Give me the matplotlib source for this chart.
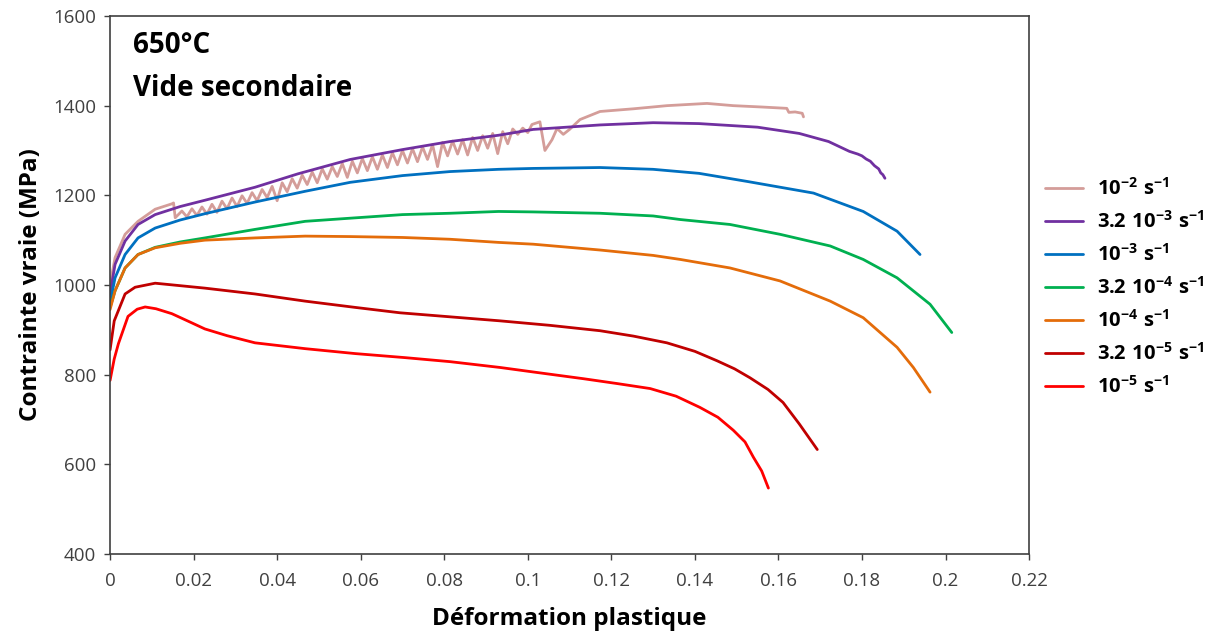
import matplotlib
matplotlib.use("Agg")
import matplotlib.pyplot as plt

plt.rcParams["font.family"] = ["Open Sans", "DejaVu Sans"]
plt.rcParams["mathtext.fontset"] = "custom"
plt.rcParams["mathtext.rm"] = "Open Sans"
plt.rcParams["mathtext.bf"] = "Open Sans:bold"

# strain rate labels and colours (legend order)
labels = [
    r"$\mathbf{10^{-2}\ s^{-1}}$",
    r"$\mathbf{3.2\ 10^{-3}\ s^{-1}}$",
    r"$\mathbf{10^{-3}\ s^{-1}}$",
    r"$\mathbf{3.2\ 10^{-4}\ s^{-1}}$",
    r"$\mathbf{10^{-4}\ s^{-1}}$",
    r"$\mathbf{3.2\ 10^{-5}\ s^{-1}}$",
    r"$\mathbf{10^{-5}\ s^{-1}}$",
]
colors = ["#d49d99", "#7030a0", "#0070c0", "#00b050", "#e46c0a", "#c00000", "#ff0000"]

# 1e-2 s-1 (serrated)
x_1e2 = [0, 0.0012, 0.0036, 0.0067, 0.0108, 0.0148, 0.0152, 0.0156,
         0.0172, 0.0184, 0.0196, 0.0208, 0.0220, 0.0232, 0.0244, 0.0256, 0.0268,
         0.0280, 0.0292, 0.0304, 0.0316, 0.0328, 0.0340, 0.0352, 0.0364, 0.0376,
         0.0388, 0.0400, 0.0412, 0.0424, 0.0436, 0.0448, 0.0460, 0.0472, 0.0484,
         0.0496, 0.0508, 0.0520, 0.0532, 0.0544, 0.0556, 0.0568, 0.0580, 0.0592,
         0.0604, 0.0616, 0.0628, 0.0640, 0.0652, 0.0664, 0.0676, 0.0688, 0.0700,
         0.0712, 0.0724, 0.0736, 0.0748, 0.0760, 0.0772, 0.0784, 0.0796, 0.0808,
         0.0820, 0.0832, 0.0844, 0.0856, 0.0868, 0.0880, 0.0892, 0.0904, 0.0916,
         0.0928, 0.0940, 0.0952, 0.0964, 0.0976, 0.0988, 0.1000, 0.1010, 0.1029,
         0.1041, 0.1058, 0.1070, 0.1085, 0.1100, 0.1125, 0.1173, 0.1253, 0.1333,
         0.1429, 0.1492, 0.1560, 0.1620, 0.1625, 0.1640, 0.1657, 0.1660]
y_1e2 = [1000, 1061, 1113, 1142, 1169, 1181, 1183, 1150,
         1165, 1152, 1170, 1155, 1174, 1158, 1180, 1162, 1187,
         1170, 1194, 1175, 1199, 1182, 1206, 1188, 1213, 1195,
         1220, 1188, 1228, 1208, 1237, 1216, 1245, 1224, 1252,
         1228, 1259, 1236, 1264, 1242, 1271, 1240, 1276, 1250,
         1282, 1255, 1286, 1258, 1290, 1262, 1295, 1268, 1300,
         1272, 1304, 1275, 1308, 1280, 1313, 1264, 1318, 1288,
         1321, 1292, 1324, 1290, 1329, 1300, 1333, 1305, 1338,
         1293, 1342, 1315, 1348, 1336, 1350, 1340, 1358, 1364,
         1300, 1324, 1349, 1336, 1347, 1369, 1387, 1393, 1400,
         1405, 1400, 1397, 1394, 1385, 1386, 1383, 1375]

# 3.2e-3 s-1
x_32e3 = [0, 0.0012, 0.0036, 0.0067, 0.0108, 0.0168, 0.0227, 0.0347, 0.045, 0.0575,
          0.07, 0.0814, 0.093, 0.1013, 0.1173, 0.13, 0.141, 0.155, 0.165, 0.172,
          0.177, 0.179, 0.180, 0.181, 0.182, 0.183, 0.184, 0.1845, 0.185, 0.1855]
y_32e3 = [980, 1046, 1098, 1135, 1157, 1175, 1189, 1218, 1248, 1280,
          1302, 1320, 1334, 1347, 1357, 1362, 1360, 1352, 1338, 1320,
          1298, 1292, 1288, 1281, 1276, 1266, 1259, 1250, 1246, 1238]

# 1e-3 s-1
x_1e3 = [0, 0.0012, 0.0036, 0.0067, 0.0108, 0.0168, 0.0227, 0.0347, 0.0467, 0.0575,
         0.07, 0.0814, 0.093, 0.1013, 0.1173, 0.13, 0.141, 0.1525, 0.1684, 0.1803,
         0.1884, 0.1939]
y_1e3 = [960, 1016, 1068, 1105, 1127, 1145, 1159, 1185, 1209, 1229,
         1244, 1253, 1258, 1260, 1262, 1258, 1249, 1231, 1205, 1164,
         1120, 1068]

# 3.2e-4 s-1
x_32e4 = [0, 0.0012, 0.0036, 0.0067, 0.0108, 0.0168, 0.0227, 0.0347, 0.0467, 0.0575,
          0.07, 0.0814, 0.093, 0.1013, 0.1173, 0.13, 0.1365, 0.1484, 0.1604, 0.1724,
          0.1803, 0.1884, 0.1963, 0.2015]
y_32e4 = [950, 987, 1038, 1068, 1084, 1096, 1105, 1124, 1142, 1149,
          1157, 1160, 1164, 1163, 1160, 1154, 1146, 1135, 1113, 1087,
          1057, 1016, 957, 894]

# 1e-4 s-1
x_1e4 = [0, 0.0012, 0.0036, 0.0067, 0.0108, 0.0168, 0.0227, 0.0347, 0.0467, 0.0575,
         0.07, 0.0814, 0.093, 0.1013, 0.1173, 0.13, 0.1365, 0.1484, 0.1604, 0.1724,
         0.1803, 0.1884, 0.1923, 0.1963]
y_1e4 = [945, 987, 1038, 1068, 1083, 1093, 1100, 1105, 1109, 1108,
         1106, 1102, 1095, 1091, 1078, 1066, 1057, 1038, 1009, 964,
         927, 861, 816, 761]

# 3.2e-5 s-1
x_32e5 = [0, 0.001, 0.0036, 0.006, 0.0108, 0.0227, 0.0347, 0.0467, 0.0587, 0.0694,
          0.0814, 0.0934, 0.1053, 0.1173, 0.1253, 0.1333, 0.1400, 0.1453, 0.1495,
          0.1532, 0.1575, 0.1611, 0.1650, 0.1693]
y_32e5 = [855, 920, 980, 995, 1004, 993, 980, 964, 950, 938,
          929, 920, 910, 898, 886, 871, 852, 831, 813,
          793, 767, 738, 690, 633]

# 1e-5 s-1
x_1e5 = [0, 0.001, 0.002, 0.0043, 0.0065, 0.0084, 0.011, 0.0148, 0.019, 0.0227,
         0.028, 0.0347, 0.0467, 0.0587, 0.0706, 0.0814, 0.0934, 0.1013, 0.1133,
         0.1215, 0.1293, 0.1355, 0.1412, 0.1455, 0.1492, 0.152, 0.154, 0.156, 0.1576]
y_1e5 = [787, 835, 869, 930, 946, 951, 947, 936, 918, 902,
         887, 871, 858, 847, 838, 829, 816, 806, 791,
         780, 769, 752, 727, 705, 676, 650, 616, 585, 547]

xs = [x_1e2, x_32e3, x_1e3, x_32e4, x_1e4, x_32e5, x_1e5]
ys = [y_1e2, y_32e3, y_1e3, y_32e4, y_1e4, y_32e5, y_1e5]

fig = plt.figure(figsize=(12.2, 6.37), dpi=100)
ax = fig.add_axes([0.0902, 0.1303, 0.7533, 0.8446])

for x, y, c, lab in zip(xs, ys, colors, labels):
    ax.plot(x, y, color=c, lw=2.0, label=lab, solid_capstyle="round")

ax.set_xlim(0, 0.22)
ax.set_ylim(400, 1600)
ax.set_xticks([0, 0.02, 0.04, 0.06, 0.08, 0.1, 0.12, 0.14, 0.16, 0.18, 0.2, 0.22])
ax.set_xticklabels(["0", "0.02", "0.04", "0.06", "0.08", "0.1", "0.12", "0.14",
                    "0.16", "0.18", "0.2", "0.22"])
ax.set_yticks(range(400, 1601, 200))

for sp in ax.spines.values():
    sp.set_color("#404040")
    sp.set_linewidth(1.2)
ax.tick_params(direction="out", length=4, width=1, color="#404040",
               labelsize=13.5, labelcolor="#404040", pad=6)
ax.tick_params(axis="x", pad=9)

ax.set_xlabel("Déformation plastique", fontsize=17.5, fontweight="bold", labelpad=12)
ax.set_ylabel("Contrainte vraie (MPa)", fontsize=17.5, fontweight="bold", labelpad=7)

ax.text(0.025, 0.946, "650°C", transform=ax.transAxes, fontsize=20,
        fontweight="bold", va="center")
ax.text(0.025, 0.866, "Vide secondaire", transform=ax.transAxes, fontsize=20,
        fontweight="bold", va="center")

fig.legend(loc="upper left", bbox_to_anchor=(1037 / 1220, 1 - 170 / 637),
           frameon=False, fontsize=14.5, handlelength=1.9, labelspacing=0.55,
           handletextpad=0.7, borderaxespad=0)

fig.savefig("out.png", dpi=100)
